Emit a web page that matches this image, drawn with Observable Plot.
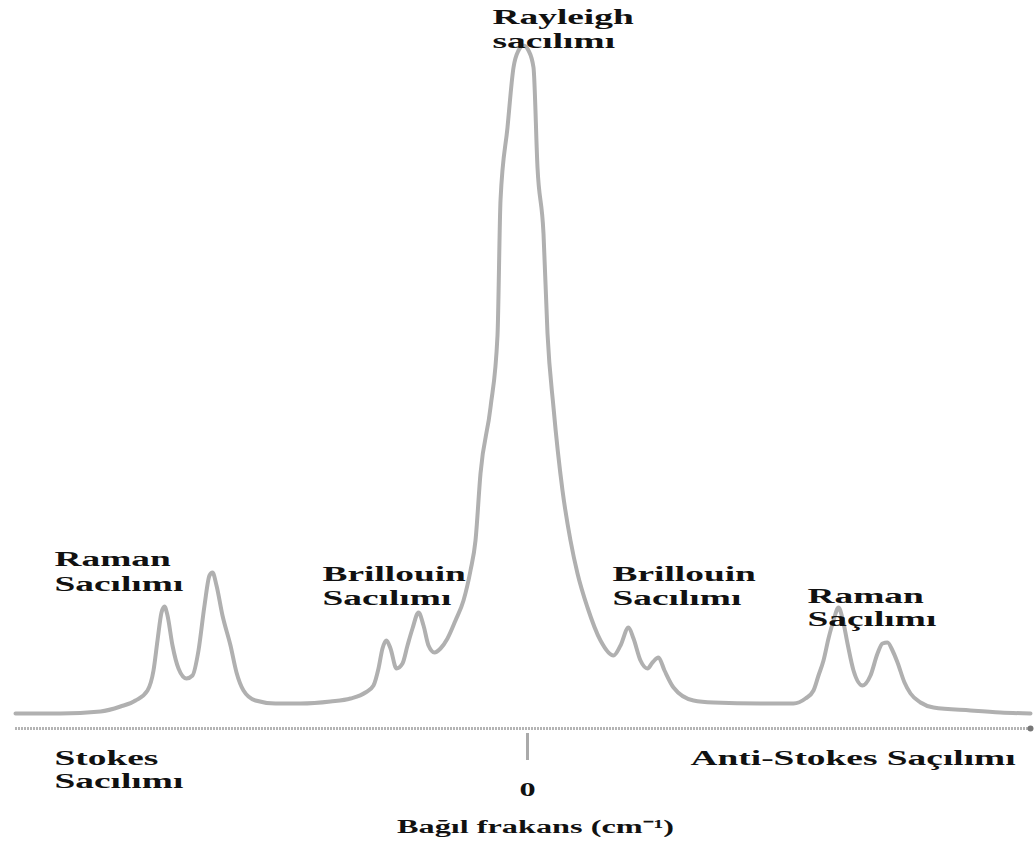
<!DOCTYPE html>
<html><head><meta charset="utf-8">
<script src="https://cdn.jsdelivr.net/npm/d3@7"></script>
<script src="https://cdn.jsdelivr.net/npm/@observablehq/plot@0.6"></script>
<style>body{margin:0;background:#fff}</style>
</head><body><div id="chart"></div>
<script>
// Relative frequency (arbitrary units, 0 = Rayleigh line)
const shift = [-512,-467,-427,-407,-392,-380,-374,-370,-366,-363,-360,-355,-349,-341,-335,-329,-323,-318,-315,-311,-305,-297,-291,-284,-272,-252,-227,-197,-177,-162,-154,-149,-145,-141,-137,-131,-125,-120,-115,-109,-104,-99,-93,-87,-80,-72,-64,-57,-52,-47,-37,-30,-27,-20,-14,-9,-4,1,6,10,16,20,26,35,43,50,60,73,86,93,101,106,113,120,125,131,137,146,166,186,233,266,278,286,291,296,301,306,311,315,320,326,335,343,350,355,360,365,370,377,383,393,406,443,473,503];
const intensity = [15,15,17,22,28,38,58,88,116,122,113,83,60,50,53,78,123,153,156,143,113,83,56,38,28,25,25,27,30,36,43,60,80,88,80,60,65,83,100,116,103,83,76,80,90,108,128,158,188,255,321,393,528,601,661,678,683,678,661,561,495,395,321,238,188,155,121,88,73,83,101,90,68,60,66,71,58,41,28,26,25,25,30,38,53,68,90,108,121,110,85,58,43,53,75,85,86,78,66,46,35,26,21,18,16,15];

// Annotation labels (anchored in data coordinates)
const labelText = ["Rayleigh","sacılımı","Raman","Sacılımı","Brillouin","Sacılımı","Brillouin","Sacılımı","Raman","Saçılımı","Stokes","Sacılımı","Anti-Stokes Saçılımı"];
const labelX = [-35,-35,-473,-473,-205,-205,85,85,280,280,-473,-473,163];
const labelY = [712,688,170,145,155,131,155,131,133,110,-29,-52,-29];

const tickLabels = ["0"];
const tickValues = [0];
const axisTitle = "Bağıl frakans (cm⁻¹)";

const spectrum = shift.map((x,i)=>({x, y:intensity[i]}));
const labels = labelText.map((t,i)=>({t, x:labelX[i], y:labelY[i]}));

const font = "'Liberation Serif', 'Times New Roman', serif";

const plot = Plot.plot({
  width: 1034,
  height: 846,
  marginLeft: 15,
  marginRight: 4,
  marginTop: 0,
  marginBottom: 118,
  x: {domain: [-512, 503], axis: null},
  y: {domain: [0, 728], axis: null},
  style: {background: "#fff", fontFamily: font},
  marks: [
    Plot.ruleY([0], {x1: -512, x2: 503, stroke: "#b4b4b4", strokeWidth: 3, strokeDasharray: "2,1"}),
    Plot.dot([503], {x: d=>d, y: 0, r: 3, fill: "#777", stroke: "none"}),
    Plot.ruleX(tickValues, {y1: -5, y2: -32, stroke: "#aaa", strokeWidth: 3}),
    Plot.line(spectrum, {x: "x", y: "y", stroke: "#b0b0b0", strokeWidth: 4, curve: "monotone-x"}),
    Plot.text(labels, {x: "x", y: "y", text: "t", textAnchor: "start", fontSize: 22, fontWeight: "bold", fill: "#111"}),
    Plot.text(tickLabels, {x: (d,i)=>tickValues[i], y: -61, text: d=>d, textAnchor: "middle", fontSize: 19, fontWeight: "bold", fill: "#111"}),
    Plot.text([axisTitle], {x: 8, y: -98, text: d=>d, textAnchor: "middle", fontSize: 19, fontWeight: "bold", fill: "#111"})
  ]
});
document.getElementById("chart").appendChild(plot);

// Horizontally stretched lettering, as in the scanned original
const S = 1.7;
d3.select(plot).selectAll("g[aria-label='text'] text").each(function(){
  const t = this.getAttribute("transform");
  if (t) this.setAttribute("transform", t + ` scale(${S},1)`);
});
</script>
</body></html>
